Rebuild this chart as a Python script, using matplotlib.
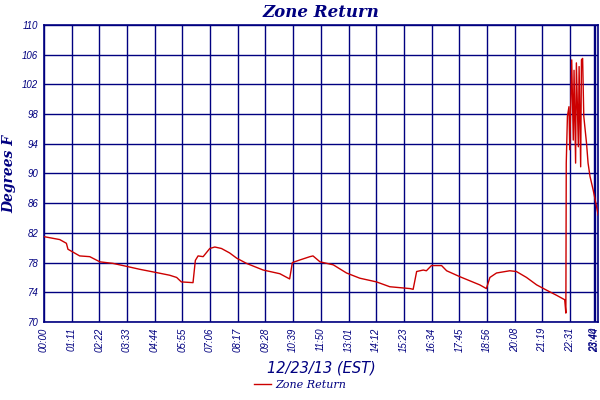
import numpy as np
import matplotlib
matplotlib.use("Agg")
import matplotlib.pyplot as plt

# minutes after midnight, 12/23/13
minutes = [0, 41, 58, 62, 72, 92, 118, 144, 177, 212, 246, 285, 323, 341, 353,
           383, 389, 396, 409, 426, 439, 456, 477, 495, 520, 563, 606, 631, 638,
           657, 683, 691, 709, 743, 777, 811, 854, 888, 940, 948, 957, 974, 982,
           995, 1021, 1034, 1068, 1119, 1136, 1145, 1162, 1196, 1213, 1239, 1265,
           1290, 1316, 1337, 1340, 1341, 1344, 1348, 1350, 1355, 1359, 1361, 1365,
           1367, 1372, 1374, 1378, 1380, 1383, 1386, 1393, 1397, 1402, 1410, 1417,
           1423]
zone_return = [81.5, 81.1, 80.6, 79.8, 79.5, 78.9, 78.8, 78.1, 77.9, 77.5, 77.1,
               76.7, 76.3, 76.0, 75.4, 75.3, 78.3, 78.9, 78.8, 79.9, 80.1, 79.9,
               79.3, 78.6, 77.9, 77.0, 76.5, 75.8, 78.0, 78.35, 78.8, 78.9, 78.1,
               77.7, 76.6, 75.9, 75.4, 74.75, 74.5, 74.4, 76.8, 77.0, 76.9, 77.6,
               77.6, 76.9, 76.1, 75.0, 74.5, 76.0, 76.6, 76.9, 76.8, 76.0, 75.0,
               74.3, 73.6, 73.0, 71.2, 91.4, 97.7, 99.0, 93.2, 105.3, 94.5, 103.9,
               91.4, 104.9, 93.6, 104.4, 90.9, 105.3, 105.5, 97.7, 94.1, 91.4, 89.6,
               87.8, 86.0, 84.4]

tick_labels = ["00:00", "01:11", "02:22", "03:33", "04:44", "05:55", "07:06",
               "08:17", "09:28", "10:39", "11:50", "13:01", "14:12", "15:23",
               "16:34", "17:45", "18:56", "20:08", "21:19", "22:31", "23:40", "23:44"]
tick_pos = [i * 71.1 for i in range(20)] + [1412, 1416]

y_ticks = list(range(70, 111, 4))

navy = "#000080"
red = "#cc0000"

fig = plt.figure(figsize=(6, 4), dpi=100)
ax = fig.add_axes([0.073, 0.195, 0.924, 0.7425])

ax.plot(minutes, zone_return, color=red, lw=1.0, label="Zone Return", zorder=3)

ax.set_xlim(0, 1423)
ax.set_ylim(70, 110)
ax.set_xticks(tick_pos)
ax.set_xticklabels(tick_labels, rotation=90, fontsize=7, style="italic",
                   color=navy, family="Liberation Sans")
ax.set_yticks(y_ticks)
ax.set_yticklabels([str(v) for v in y_ticks], fontsize=7, style="italic",
                   color=navy, family="Liberation Sans")
ax.tick_params(length=0, pad=4)
ax.grid(True, color=navy, lw=1.0)
ax.set_axisbelow(True)
for s in ax.spines.values():
    s.set_color(navy)
    s.set_linewidth(1.2)

ax.set_title("Zone Return", fontsize=12, fontweight="bold", style="italic",
             color=navy, family="DejaVu Serif", pad=6)
ax.set_ylabel("Degrees F", fontsize=10, fontweight="bold", style="italic",
              color=navy, family="DejaVu Serif", labelpad=4)
ax.set_xlabel("12/23/13 (EST)", fontsize=10.5, style="italic", color=navy,
              family="DejaVu Sans", labelpad=6)

leg = fig.legend(loc="lower center", bbox_to_anchor=(0.5, 0.0), frameon=False,
                 prop={"family": "DejaVu Serif", "style": "italic", "size": 8},
                 handlelength=1.5, handletextpad=0.4)
for t in leg.get_texts():
    t.set_color(navy)

fig.savefig("out.png", dpi=100)
